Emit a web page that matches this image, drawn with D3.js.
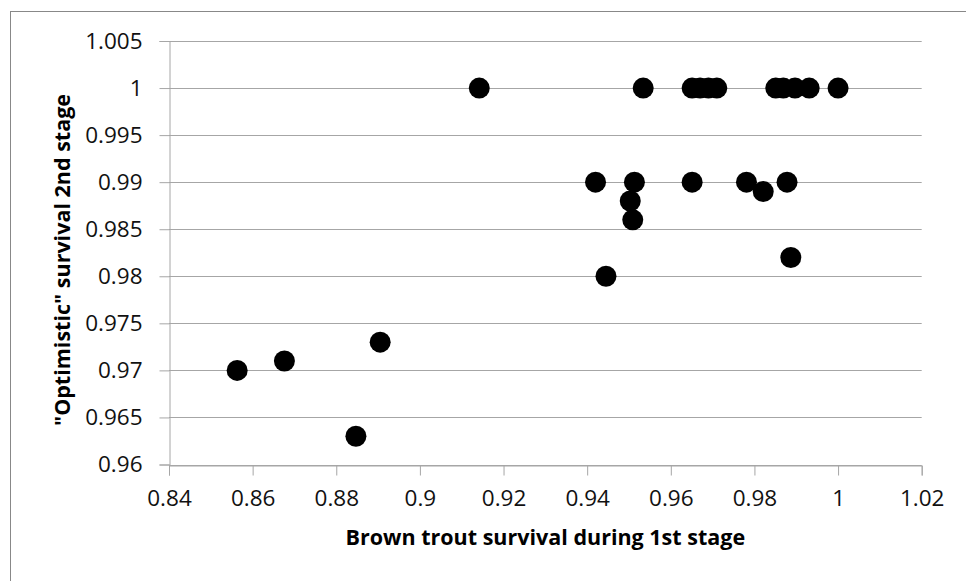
<!DOCTYPE html>
<html>
<head>
<meta charset="utf-8">
<script src="https://cdn.jsdelivr.net/npm/d3@7"></script>
<style>
  html, body { margin: 0; padding: 0; background: #fff; }
  svg { display: block; }
</style>
</head>
<body>
<svg id="chart" width="966" height="581"></svg>
<script>
// Data
const xValues = [0.9142, 0.9534, 0.9651, 0.9670, 0.9690, 0.9710, 0.9851, 0.9869, 0.9897, 0.9931, 1.0000,
                 0.9420, 0.9513, 0.9503, 0.9509, 0.9651, 0.9781, 0.9821, 0.9878, 0.9887, 0.9445,
                 0.8563, 0.8676, 0.8905, 0.8847];
const yValues = [1.000, 1.000, 1.000, 1.000, 1.000, 1.000, 1.000, 1.000, 1.000, 1.000, 1.000,
                 0.990, 0.990, 0.988, 0.986, 0.990, 0.990, 0.989, 0.990, 0.982, 0.980,
                 0.970, 0.971, 0.973, 0.963];
const xTicks = [0.84, 0.86, 0.88, 0.90, 0.92, 0.94, 0.96, 0.98, 1.00, 1.02];
const yTicks = [0.96, 0.965, 0.97, 0.975, 0.98, 0.985, 0.99, 0.995, 1.00, 1.005];
const xTitle = "Brown trout survival during 1st stage";
const yTitle = "\"Optimistic\" survival 2nd stage";

(function () {
const svg = d3.select("#chart");
const font = "'Open Sans', 'Liberation Sans', sans-serif";

// outer border
svg.append("rect").attr("x", 10.5).attr("y", 11.5).attr("width", 970).attr("height", 590)
  .attr("fill", "none").attr("stroke", "#888").attr("stroke-width", 1);

const pl = 169, pr = 921.7, pt = 41, pb = 464.5;
const x = d3.scaleLinear().domain([0.84, 1.02]).range([pl, pr]);
const y = d3.scaleLinear().domain([0.96, 1.005]).range([pb, pt]);

const fmt = d => String(+d.toFixed(3));

// gridlines
svg.append("g").selectAll("line").data(yTicks).join("line")
  .attr("x1", pl).attr("x2", pr)
  .attr("y1", d => Math.round(y(d)) + 0.5).attr("y2", d => Math.round(y(d)) + 0.5)
  .attr("stroke", "#a6a6a6").attr("stroke-width", 1);

// y axis
const yAxis = svg.append("g").attr("transform", `translate(${Math.round(pl) + 0.5},0)`)
  .call(d3.axisLeft(y).tickValues(yTicks).tickFormat(fmt).tickSize(10).tickPadding(17));
// x axis
const xAxis = svg.append("g").attr("transform", `translate(0,${Math.round(pb) + 0.5})`)
  .call(d3.axisBottom(x).tickValues(xTicks).tickFormat(fmt).tickSize(10).tickPadding(15));

[yAxis, xAxis].forEach(g => {
  g.select(".domain").attr("stroke", "#a6a6a6");
  g.selectAll(".tick line").attr("stroke", "#a6a6a6");
  g.selectAll(".tick text").attr("fill", "#111")
    .style("font-family", font).style("font-size", "22.5px");
});

// points
svg.append("g").selectAll("circle").data(xValues.map((v, i) => [v, yValues[i]])).join("circle")
  .attr("cx", d => x(d[0])).attr("cy", d => y(d[1])).attr("r", 10.5)
  .attr("fill", "#000");

// titles
svg.append("text").attr("x", (pl + pr) / 2).attr("y", 545)
  .attr("text-anchor", "middle").attr("fill", "#000")
  .style("font-family", font).style("font-weight", "bold").style("font-size", "21.5px")
  .text(xTitle);

svg.append("text").attr("transform", `translate(70,260) rotate(-90)`)
  .attr("text-anchor", "middle").attr("fill", "#000")
  .style("font-family", font).style("font-weight", "bold").style("font-size", "21.5px")
  .text(yTitle);
})();
</script>
</body>
</html>
